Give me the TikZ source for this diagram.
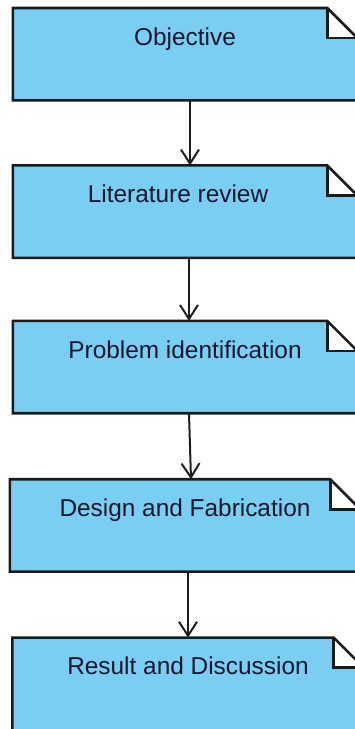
\documentclass[tikz,border=0pt]{standalone}
\usepackage{fontspec}
\setmainfont{Liberation Sans}
\usetikzlibrary{positioning,arrows.meta}
\definecolor{noteblue}{RGB}{121,206,242}
\definecolor{notetext}{RGB}{22,22,48}

\begin{document}
\begin{tikzpicture}[x=1pt,y=1pt,
   notebox/.style={fill=noteblue,inner sep=0pt,minimum width=344pt,
      text height=37pt,text depth=55pt,text=notetext,
      font=\fontsize{24.4}{29}\selectfont},
   noteline/.style={line width=2.6pt,draw={rgb,255:red,26;green,26;blue,26},line join=miter},
   flow/.style={line width=2pt,draw={rgb,255:red,30;green,30;blue,30},
      -{Straight Barb[length=14pt,width=18pt,line width=2pt]}}]
\useasboundingbox (0,0) rectangle (355,-729);
\clip (0,0) rectangle (355,-729);
\node[notebox,anchor=north] (obj) at (185,-8) {Objective};
\node[notebox,below=65pt of obj] (lit) {\hspace*{-14pt}Literature review};
\node[notebox,below=63pt of lit] (prob) {Problem identification};
\node[notebox,below=66pt of prob,minimum width=350pt] (des) {Design and Fabrication};
\node[notebox,below=66pt of des,xshift=3pt,minimum width=351pt,text depth=75pt] (res) {Result and Discussion};
\foreach \n in {obj,lit,prob,des,res}{
  \fill[white] ([xshift=-30pt]\n.north east) rectangle ([yshift=-30pt]\n.north east);
  \draw[noteline] (\n.north west) -- ([xshift=-30pt]\n.north east)
     -- ([yshift=-30pt]\n.north east) -- (\n.south east) -- (\n.south west) -- cycle;
  \draw[noteline] ([xshift=-30pt]\n.north east) |- ([yshift=-30pt]\n.north east);
}
\draw[flow] ([xshift=5pt]obj.south) -- ([xshift=5pt]lit.north);
\draw[flow] ([xshift=4pt]lit.south) -- ([xshift=4pt]prob.north);
\draw[flow] ([xshift=4pt]prob.south) -- ([xshift=6pt]des.north);
\draw[flow] ([xshift=3pt]des.south) -- ([xshift=0pt]res.north);
\end{tikzpicture}
\end{document}
